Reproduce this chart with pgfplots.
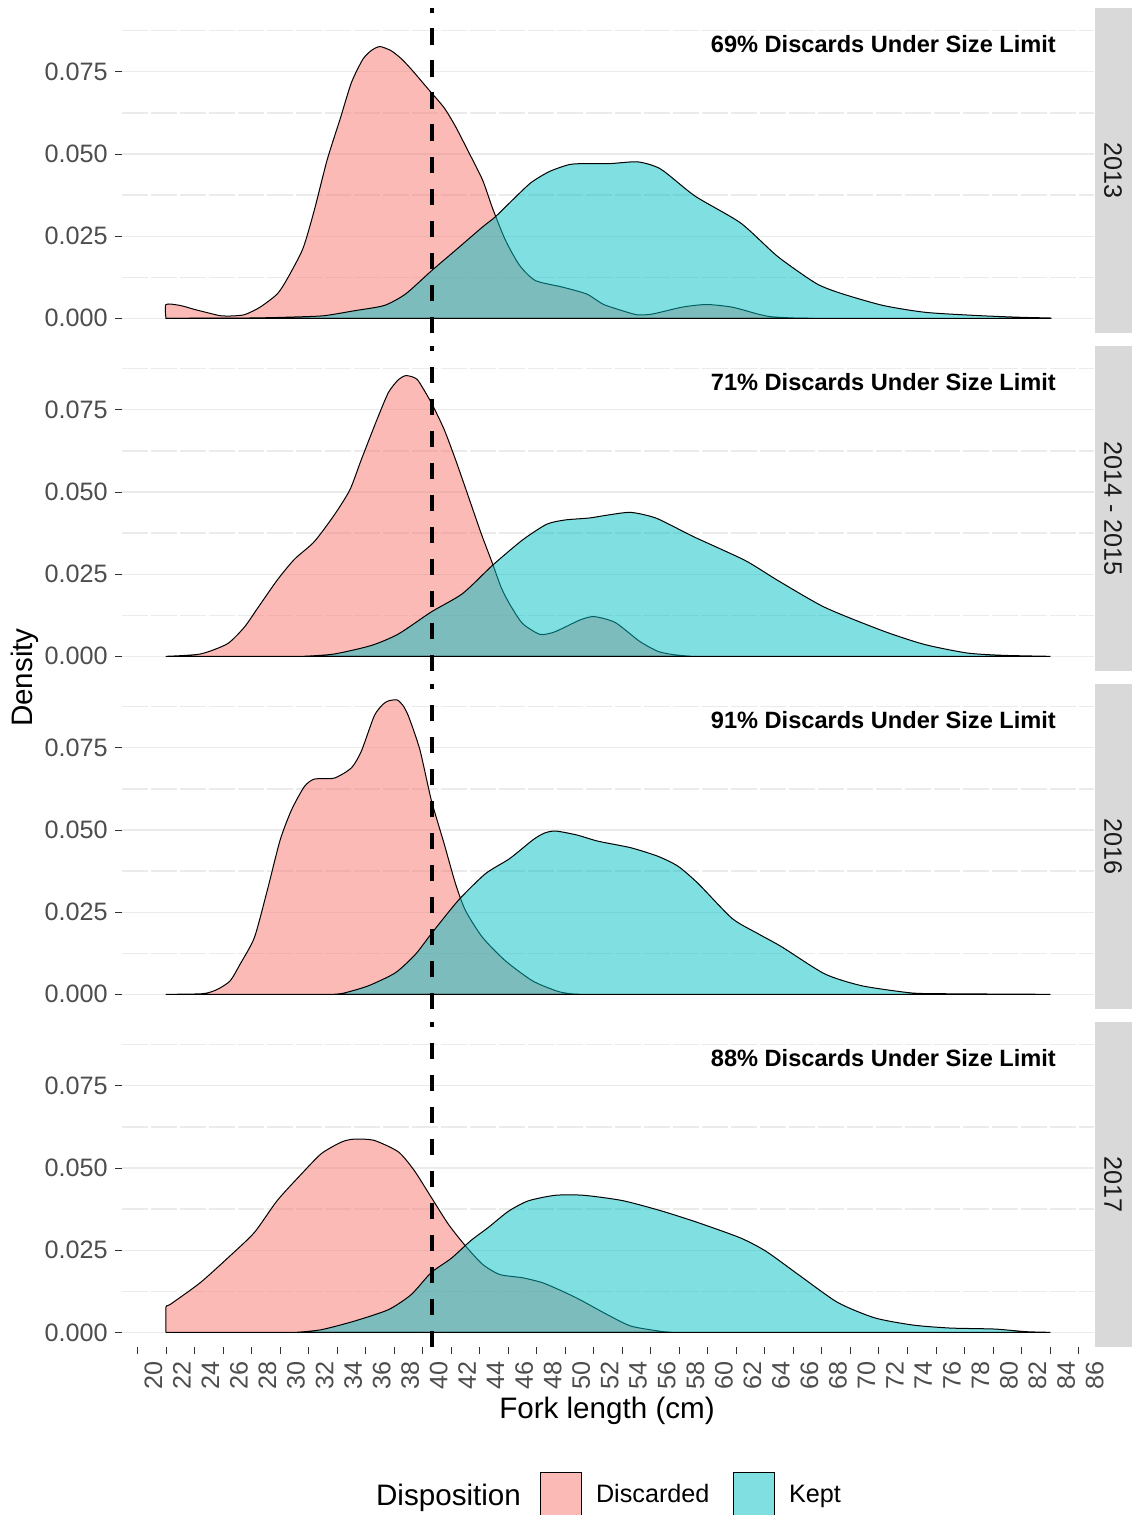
\documentclass[border=0pt]{standalone}
\usepackage{pgfplots}
\pgfplotsset{compat=1.18}
\usepackage{fontspec}
\setmainfont{Liberation Sans}
\definecolor{discc}{HTML}{F8766D}
\definecolor{keptc}{HTML}{00BFC4}
\definecolor{gridc}{HTML}{EBEBEB}
\definecolor{tickc}{HTML}{333333}
\definecolor{labc}{HTML}{4D4D4D}
\definecolor{stripc}{HTML}{D9D9D9}
\definecolor{striptxt}{HTML}{1A1A1A}
\newcommand{\tickfont}{\fontsize{12.6}{14}\selectfont}
\newcommand{\annfont}{\fontsize{11.8}{14}\selectfont\bfseries}
\newcommand{\titlefont}{\fontsize{14.8}{17}\selectfont}
\pgfplotsset{
 panel/.style={
  anchor=north west, scale only axis, width=486.25pt, height=162.5pt,
  xmin=18.9, xmax=87.1, ymin=-0.0045, ymax=0.0944,
  axis x line*=bottom, axis y line*=left, axis line style={draw=none,-},
  ytick={0,0.025,0.05,0.075}, minor ytick={0.0125,0.0375,0.0625,0.0875},
  ymajorgrids, yminorgrids,
  major grid style={draw=gridc, line width=0.6pt},
  minor grid style={draw=gridc, line width=0.6pt, dash pattern=on 13pt off 1.5pt},
  tick align=outside, major tick length=3.5pt, minor tick length=0pt,
  tick style={draw=tickc, line width=0.5pt},
  scaled y ticks=false,
  /pgf/number format/assume math mode=true,
  yticklabel style={/pgf/number format/fixed, /pgf/number format/fixed zerofill, /pgf/number format/precision=3, font=\tickfont, text=labc},
  xticklabel style={rotate=90, anchor=north east, font=\tickfont, text=labc},
 },
 disc/.style={fill=discc, fill opacity=0.5, draw=black, line width=0.5pt, line join=round, smooth, tension=0.4},
 kept/.style={fill=keptc, fill opacity=0.5, draw=black, line width=0.5pt, line join=round, smooth, tension=0.4},
 sizeline/.style={black, line width=2pt, dash pattern=on 8.3pt off 7.7pt, forget plot},
}
\begin{document}
\begin{tikzpicture}
\useasboundingbox (0,0) rectangle (566pt,-757.5pt);
% ---------------- 2013
\begin{axis}[panel, at={(60.9pt,-4.05pt)}, xtick=\empty]
\addplot[disc] coordinates {(22,0) (22,0.0042) (23,0.0039) (24,0.0027) (25.1,0.0015) (25.8,0.0008) (26.5,0.0007) (27.5,0.0011) (28.6,0.0034) (29.8,0.0074) (30.5,0.0120) (31.6,0.0212) (32.4,0.0329) (33.3,0.0482) (34.2,0.0605) (35.0,0.0717) (35.8,0.0788) (36.4,0.0815) (37.0,0.0827) (37.8,0.0814) (38.5,0.0790) (39.2,0.0758) (40.4,0.0697) (41.5,0.0641) (42.3,0.0584) (43.2,0.0508) (44.2,0.0421) (44.9,0.0335) (45.8,0.0238) (46.8,0.0161) (47.9,0.0115) (49.8,0.0095) (51.5,0.0074) (52.6,0.0044) (53.5,0.0030) (55.0,0.0011) (56.1,0.0013) (58.2,0.0034) (59.9,0.0042) (61.7,0.0034) (63.5,0.0013) (64.4,0.0005) (66,0.0001) (67.4,0)} -- cycle;
\addplot[kept] coordinates {(22,0) (28,0.0001) (31,0.0004) (33.1,0.0008) (35.2,0.0023) (37.3,0.0039) (38.8,0.0074) (40.6,0.0144) (42.3,0.0207) (44.2,0.0278) (45.1,0.0309) (46.3,0.0360) (47.6,0.0413) (48.9,0.0447) (50.3,0.0468) (51.5,0.0471) (53.2,0.0471) (55.1,0.0476) (56.7,0.0454) (59.1,0.0372) (62.3,0.0290) (64.9,0.0188) (67.6,0.0106) (69.4,0.0075) (72.3,0.0039) (75.3,0.0018) (79.1,0.0008) (82,0.0003) (84,0.0001) (84,0)} -- cycle;
\addplot[sizeline] coordinates {(40.64,-0.0045) (40.64,0.0944)};
\node[anchor=base east, font=\annfont] at (axis cs:84.9,0.0810) {69\% Discards Under Size Limit};
\end{axis}
% ---------------- 2014 - 2015
\begin{axis}[panel, at={(60.9pt,-173.05pt)}, xtick=\empty]
\addplot[disc] coordinates {(22,0) (24.4,0.0007) (26.3,0.0038) (27.5,0.0089) (28.4,0.0145) (29.8,0.0232) (31.0,0.0295) (32.4,0.0349) (33.8,0.0430) (34.9,0.0507) (35.7,0.0599) (36.8,0.0721) (37.6,0.0803) (38.3,0.0842) (38.8,0.0854) (39.3,0.0850) (39.7,0.0838) (40.6,0.0772) (41.5,0.0691) (42.3,0.0599) (43.2,0.0487) (44.1,0.0374) (44.9,0.0282) (45.5,0.0210) (46.1,0.0159) (47.0,0.0100) (48.2,0.0067) (49.1,0.0072) (49.9,0.0087) (51.0,0.0110) (52.0,0.0121) (53.5,0.0103) (55.2,0.0046) (56.5,0.0015) (57.6,0.0005) (58.8,0)} -- cycle;
\addplot[kept] coordinates {(31.7,0) (33.8,0.0007) (36.4,0.0033) (38.3,0.0068) (40.6,0.0135) (42.8,0.0191) (44.9,0.0277) (47.0,0.0354) (48.7,0.0402) (50.0,0.0415) (51.7,0.0421) (53.0,0.0430) (54.6,0.0438) (56.4,0.0420) (59.0,0.0364) (62.6,0.0292) (64.9,0.0231) (68.2,0.0149) (72.3,0.0077) (75.2,0.0036) (78.2,0.0010) (80.7,0.0003) (84,0)} -- cycle;
\addplot[sizeline] coordinates {(40.64,-0.0045) (40.64,0.0944)};
\node[anchor=base east, font=\annfont] at (axis cs:84.9,0.0810) {71\% Discards Under Size Limit};
\end{axis}
% ---------------- 2016
\begin{axis}[panel, at={(60.9pt,-342.05pt)}, xtick=\empty]
\addplot[disc] coordinates {(22,0) (24.6,0.0002) (25.6,0.0015) (26.5,0.0041) (27.2,0.0092) (28.2,0.0173) (29.1,0.0316) (30.0,0.0469) (30.8,0.0561) (31.7,0.0632) (32.4,0.0655) (33.8,0.0658) (35.0,0.0689) (35.7,0.0740) (36.6,0.0847) (37.2,0.0882) (37.6,0.0893) (38.2,0.0896) (38.6,0.0880) (39.0,0.0847) (39.8,0.0745) (40.6,0.0592) (41.5,0.0459) (42.3,0.0337) (43.0,0.0255) (44.2,0.0173) (45.8,0.0102) (47.7,0.0041) (49.4,0.0010) (50.3,0.0002) (51,0)} -- cycle;
\addplot[kept] coordinates {(33.8,0) (34.5,0.0004) (36.2,0.0026) (38.1,0.0066) (39.5,0.0122) (40.6,0.0184) (42.5,0.0286) (44.4,0.0367) (46.1,0.0413) (47.7,0.0469) (48.5,0.0490) (49.3,0.0497) (50.8,0.0485) (52.3,0.0466) (54.6,0.0446) (56.5,0.0420) (57.9,0.0390) (59.3,0.0338) (61.7,0.0231) (63.5,0.0185) (65.2,0.0144) (68.2,0.0062) (70.8,0.0026) (74.1,0.0005) (76.0,0.0002) (84,0)} -- cycle;
\addplot[sizeline] coordinates {(40.64,-0.0045) (40.64,0.0944)};
\node[anchor=base east, font=\annfont] at (axis cs:84.9,0.0810) {91\% Discards Under Size Limit};
\end{axis}
% ---------------- 2017
\begin{axis}[panel, at={(60.9pt,-511.05pt)}, xtick={20,22,...,86},
  legend style={at={(0.587,-0.455)}, anchor=center, draw=none, fill=none, legend columns=-1,
   font=\tickfont, /tikz/every odd column/.append style={column sep=4.8pt},
   /tikz/every even column/.append style={column sep=10pt}},
  legend image code/.code={\draw[#1] (0pt,-11.25pt) rectangle (20.5pt,11.25pt);}]
\addplot[disc] coordinates {(22,0) (22,0.0077) (22.3,0.0085) (24.4,0.0151) (26.5,0.0233) (28.2,0.0304) (29.8,0.0401) (31.5,0.0482) (32.9,0.0544) (34.3,0.0579) (35.2,0.0588) (36.6,0.0584) (38.3,0.0549) (39.4,0.0493) (40.6,0.0411) (41.8,0.0329) (43.0,0.0263) (44.2,0.0207) (45.4,0.0176) (47.0,0.0166) (48.4,0.0151) (49.8,0.0125) (51.0,0.0100) (52.9,0.0055) (54.6,0.0019) (56.7,0.0003) (57.5,0)} -- cycle;
\addlegendentry{Discarded}
\addplot[kept] coordinates {(31.2,0) (32.9,0.0008) (35.2,0.0034) (37.6,0.0069) (39.2,0.0115) (40.6,0.0182) (42.0,0.0225) (43.4,0.0280) (44.6,0.0319) (46.0,0.0368) (47.4,0.0400) (49.3,0.0417) (51.3,0.0417) (54.0,0.0401) (56.7,0.0370) (59.3,0.0334) (62.3,0.0287) (64.1,0.0246) (66.4,0.0174) (69.1,0.0091) (71.7,0.0044) (74.4,0.0022) (77.0,0.0013) (80.1,0.0010) (82.3,0.0002) (84,0)} -- cycle;
\addlegendentry{Kept}
\addplot[sizeline] coordinates {(40.64,-0.0045) (40.64,0.0944)};
\node[anchor=base east, font=\annfont] at (axis cs:84.9,0.0810) {88\% Discards Under Size Limit};
\end{axis}
% ---------------- strips
\foreach \t/\lab in {4.05/2013, 173.05/2014 - 2015, 342.05/2016, 511.05/2017}{
  \fill[stripc] (547.5pt,-\t pt) rectangle (566pt,-\t pt-162.5pt);
  \node[rotate=-90, font=\tickfont, text=striptxt] at (556.5pt,-\t pt-81.25pt) {\lab};
}
% ---------------- titles
\node[rotate=90, font=\titlefont] at (12.5pt,-338.8pt) {Density};
\node[font=\titlefont] at (303.5pt,-705.5pt) {Fork length (cm)};
\node[font=\titlefont, anchor=base] at (224.25pt,-752.5pt) {Disposition};
\end{tikzpicture}
\end{document}
